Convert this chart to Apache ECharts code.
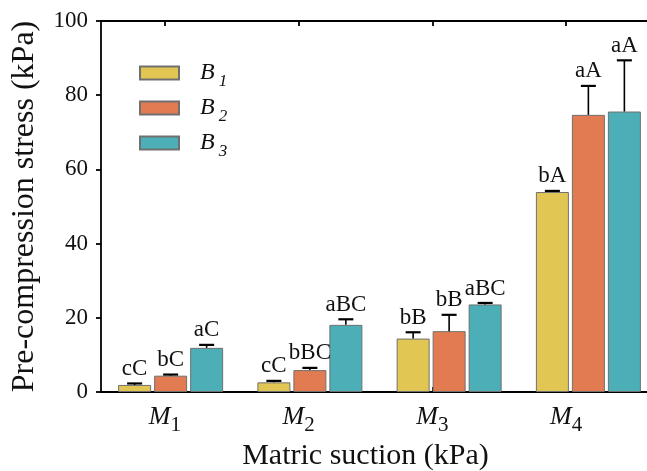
<!DOCTYPE html>
<html><head><meta charset="utf-8">
<script src="https://cdn.jsdelivr.net/npm/echarts@6/dist/echarts.min.js"></script>
<style>html,body{margin:0;padding:0;background:#fff}#c{width:647px;height:471px}</style>
</head><body><div id="c"></div>
<script>
var categories = ['M1', 'M2', 'M3', 'M4'];
var seriesNames = ['B1', 'B2', 'B3'];
var B1 = [1.9, 2.6, 14.4, 53.9];
var B2 = [4.4, 5.9, 16.4, 74.7];
var B3 = [11.9, 18.1, 23.6, 75.6];
var errB1 = [0.4, 0.4, 1.7, 0.3];
var errB2 = [0.3, 0.6, 4.4, 7.8];
var errB3 = [0.8, 1.5, 0.4, 13.8];
var letB1 = ['cC', 'cC', 'bB', 'bA'];
var letB2 = ['bC', 'bBC', 'bB', 'aA'];
var letB3 = ['aC', 'aBC', 'aBC', 'aA'];
var yTicks = [0, 20, 40, 60, 80, 100];

var FONT = '"Liberation Serif","Times New Roman",serif';
var colors = ['#E2C654', '#E27B52', '#4CAEB6'];
var barW = 33, barGapPx = 3;
var means = [B1, B2, B3], errs = [errB1, errB2, errB3], lets = [letB1, letB2, letB3];

var chart = echarts.init(document.getElementById('c'));
var series = [];
seriesNames.forEach(function (n, i) {
  series.push({
    name: n, type: 'bar', xAxisIndex: 0, yAxisIndex: 0,
    barWidth: barW, barGap: (barGapPx / barW * 100) + '%',
    itemStyle: {color: colors[i], borderColor: '#707070', borderWidth: 1},
    data: means[i]
  });
});
seriesNames.forEach(function (n, i) {
  var d = means[i].map(function (v, k) { return [k, v, errs[i][k]]; });
  series.push({
    type: 'custom', xAxisIndex: 0, yAxisIndex: 0, silent: true, z: 5,
    data: d,
    renderItem: function (params, api) {
      var k = api.value(0), v = api.value(1), e = api.value(2);
      var base = api.coord([k, v]);
      var top = api.coord([k, v + e]);
      var x = base[0] + (i - 1) * (barW + barGapPx);
      var txt = lets[i][k];
      return {
        type: 'group', children: [
          {type: 'line', shape: {x1: x, y1: base[1], x2: x, y2: top[1]}, style: {stroke: '#000', lineWidth: 1.6}},
          {type: 'line', shape: {x1: x - 7.5, y1: top[1], x2: x + 7.5, y2: top[1]}, style: {stroke: '#000', lineWidth: 2.2}},
          {type: 'text', style: {x: x, y: top[1] - 3, text: txt, textAlign: 'center', textVerticalAlign: 'bottom', font: '23px ' + FONT, fill: '#111'}}
        ]
      };
    }
  });
});
series.push({type: 'bar', xAxisIndex: 1, yAxisIndex: 1, data: [], silent: true});

var option = {
  animation: false,
  backgroundColor: '#fff',
  textStyle: {fontFamily: FONT},
  grid: [
    {left: 101, top: 21, width: 557, height: 371, outerBoundsMode: 'none', containLabel: false},
    {left: 98, top: 21, width: 535, height: 371, outerBoundsMode: 'none', containLabel: false}
  ],
  legend: {
    data: seriesNames, orient: 'vertical', left: 134, top: 56,
    itemWidth: 39, itemHeight: 13, itemGap: 6, icon: 'rect',
    formatter: function (n) { return '{b|B}{s|' + n.slice(1) + '}'; },
    textStyle: {
      fontFamily: FONT, color: '#111',
      rich: {
        b: {fontFamily: FONT, fontStyle: 'italic', fontSize: 24, color: '#111', padding: [5, 4, 5, 16], verticalAlign: 'bottom'},
        s: {fontFamily: FONT, fontStyle: 'italic', fontSize: 17, color: '#111', verticalAlign: 'bottom'}
      }
    }
  },
  xAxis: [
    {type: 'category', gridIndex: 0, data: categories, position: 'bottom',
     axisLine: {lineStyle: {color: '#000', width: 1.8}}, axisTick: {show: false}, axisLabel: {show: false}},
    {type: 'category', gridIndex: 1, data: categories, position: 'bottom',
     axisLine: {show: false},
     axisTick: {show: true, inside: true, alignWithLabel: true, length: 5, lineStyle: {color: '#000', width: 1.8}},
     axisLabel: {margin: 12, color: '#111',
       formatter: function (v) { return '{m|M}{s|' + v.slice(1) + '}'; },
       rich: {
         m: {fontFamily: FONT, fontStyle: 'italic', fontSize: 26, color: '#111', padding: [0, 0, 6, 0], verticalAlign: 'bottom'},
         s: {fontFamily: FONT, fontSize: 21, color: '#111', verticalAlign: 'bottom'}
       }},
     name: 'Matric suction (kPa)', nameLocation: 'middle', nameGap: 44,
     nameTextStyle: {fontFamily: FONT, fontSize: 30, color: '#111'}},
    {type: 'category', gridIndex: 0, data: categories, position: 'top',
     axisLine: {lineStyle: {color: '#000', width: 1.8}}, axisTick: {show: false}, axisLabel: {show: false}},
    {type: 'category', gridIndex: 1, data: categories, position: 'top',
     axisLine: {show: false},
     axisTick: {show: true, inside: true, alignWithLabel: true, length: 5, lineStyle: {color: '#000', width: 1.8}},
     axisLabel: {show: false}}
  ],
  yAxis: [
    {type: 'value', gridIndex: 0, min: yTicks[0], max: yTicks[yTicks.length - 1], interval: 20,
     axisLine: {show: true, lineStyle: {color: '#000', width: 1.8}},
     axisTick: {show: true, length: 5, lineStyle: {color: '#000', width: 1.8}},
     splitLine: {show: false},
     axisLabel: {margin: 13, fontFamily: FONT, fontSize: 23, color: '#111'},
     name: 'Pre-compression stress (kPa)', nameLocation: 'middle', nameGap: 60,
     nameTextStyle: {fontFamily: FONT, fontSize: 32, color: '#111'}},
    {type: 'value', gridIndex: 1, min: 0, max: 100, show: false}
  ],
  series: series
};
chart.setOption(option);
</script></body></html>
